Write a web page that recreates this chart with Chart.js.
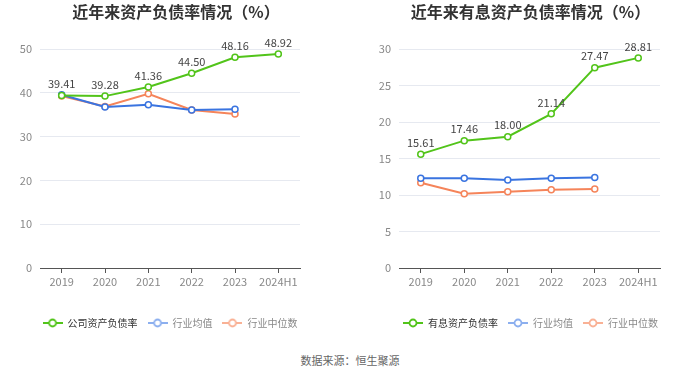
<!DOCTYPE html>
<html><head><meta charset="utf-8">
<script src="https://cdn.jsdelivr.net/npm/chart.js@4/dist/chart.umd.min.js"></script>
<style>
html,body{margin:0;padding:0;background:#fff;width:700px;height:378px;overflow:hidden;font-family:"Noto Sans CJK SC",sans-serif}
.wrap{position:absolute;top:0;width:350px;height:338px}
#src{position:absolute;left:0;width:700px;top:352px;text-align:center;font-size:11px;color:#666;font-family:"Noto Sans CJK SC",sans-serif}
</style></head><body>
<div class="wrap" style="left:0"><canvas id="c1" width="350" height="338"></canvas></div>
<div class="wrap" style="left:350px"><canvas id="c2" width="350" height="338"></canvas></div>
<div id="src">数据来源：恒生聚源</div>
<script>
const categories = ["2019","2020","2021","2022","2023","2024H1"];
const companyDebt = [39.41, 39.28, 41.36, 44.50, 48.16, 48.92];
const industryAvgDebt = [39.6, 36.8, 37.3, 36.1, 36.3, null];
const industryMedDebt = [39.3, 36.9, 39.8, 36.1, 35.2, null];
const companyIntDebt = [15.61, 17.46, 18.00, 21.14, 27.47, 28.81];
const industryAvgInt = [12.3, 12.3, 12.05, 12.3, 12.42, null];
const industryMedInt = [11.7, 10.18, 10.45, 10.73, 10.82, null];

const GREEN = "#52c41a", BLUE = "#3a74e0", ORANGE = "#f5845a";
const FONT = "'Noto Sans CJK SC', sans-serif";

function legendIcon(color) {
  const c = document.createElement("canvas");
  c.width = 20; c.height = 10;
  const x = c.getContext("2d");
  x.strokeStyle = color; x.lineWidth = 2;
  x.beginPath(); x.moveTo(0, 5); x.lineTo(20, 5); x.stroke();
  x.fillStyle = "#fff";
  x.lineWidth = 1.8;
  x.beginPath(); x.arc(10, 5, 3.5, 0, Math.PI * 2); x.fill(); x.stroke();
  return c;
}
const icons = [legendIcon(GREEN), legendIcon("#8cafef"), legendIcon("#f9b195")];
const legendColors = ["#333", "#888", "#888"];

const labelPlugin = {
  id: "vlabels",
  afterDatasetsDraw(chart) {
    const ctx = chart.ctx;
    const meta = chart.getDatasetMeta(0);
    const data = chart.data.datasets[0].data;
    ctx.save();
    ctx.font = "11px " + FONT;
    ctx.fillStyle = "#444";
    ctx.textAlign = "center";
    ctx.textBaseline = "bottom";
    meta.data.forEach((pt, i) => {
      ctx.fillText(data[i].toFixed(2), pt.x, pt.y - 6);
    });
    ctx.restore();
  }
};

const shiftPlugin = {
  id: "shiftBlocks",
  afterLayout(chart, args, opts) {
    if (chart.legend) { chart.legend.left += opts.legend; chart.legend.right += opts.legend; }
    if (chart.titleBlock) { chart.titleBlock.left += opts.title; chart.titleBlock.right += opts.title; }
  }
};

function makeChart(id, title, name, s1, s2, s3, ymax, step, padL, padR, dLegend, dTitle) {
  const ds = (label, data, color) => ({
    label, data, borderColor: color, backgroundColor: "#fff",
    borderWidth: 2, pointRadius: 3, pointHoverRadius: 3,
    pointBorderWidth: 1.5, pointBackgroundColor: "#fff", pointBorderColor: color,
    tension: 0, spanGaps: false
  });
  return new Chart(document.getElementById(id), {
    type: "line",
    data: {
      labels: categories,
      datasets: [ds(name, s1, GREEN), ds("行业均值", s2, BLUE), ds("行业中位数", s3, ORANGE)]
    },
    plugins: [labelPlugin, shiftPlugin],
    options: {
      responsive: false, animation: false,
      layout: { padding: { left: padL, right: padR, top: 0, bottom: 0 } },
      plugins: {
        shiftBlocks: { legend: dLegend, title: dTitle },
        title: { display: true, text: title, color: "#333",
          font: { size: 16, weight: "bold", family: FONT }, padding: { top: 2, bottom: 28 } },
        legend: {
          position: "bottom",
          labels: {
            usePointStyle: true, pointStyleWidth: 20, boxHeight: 10,
            padding: 10, font: { size: 10, family: FONT },
            generateLabels(chart) {
              return chart.data.datasets.map((d, i) => ({
                text: d.label, pointStyle: icons[i], fontColor: legendColors[i],
                datasetIndex: i, hidden: false, lineWidth: 0, strokeStyle: "transparent", fillStyle: "transparent"
              }));
            }
          }
        },
        tooltip: { enabled: false }
      },
      scales: {
        x: {
          offset: true,
          afterFit(s) { s.height = 40; },
          grid: { offset: false, drawOnChartArea: false, drawTicks: true, tickLength: 5, color: "#555" },
          border: { color: "#555" },
          ticks: { color: "#888", font: { size: 11, family: FONT }, padding: 2, maxRotation: 0, minRotation: 0, autoSkip: false }
        },
        y: {
          min: 0, max: ymax,
          afterFit(s) { s.width = 40; },
          grid: { color: "#e6e9f0", drawTicks: false },
          border: { display: false },
          ticks: { stepSize: step, color: "#888", font: { size: 11, family: FONT }, padding: 8 }
        }
      }
    }
  });
}

makeChart("c1", "近年来资产负债率情况（%）", "公司资产负债率", companyDebt, industryAvgDebt, industryMedDebt, 50, 10, 0, 50, 20, 26);
makeChart("c2", "近年来有息资产负债率情况（%）", "有息资产负债率", companyIntDebt, industryAvgInt, industryMedInt, 30, 5, 9, 40, 21, 21);
</script>
</body></html>
